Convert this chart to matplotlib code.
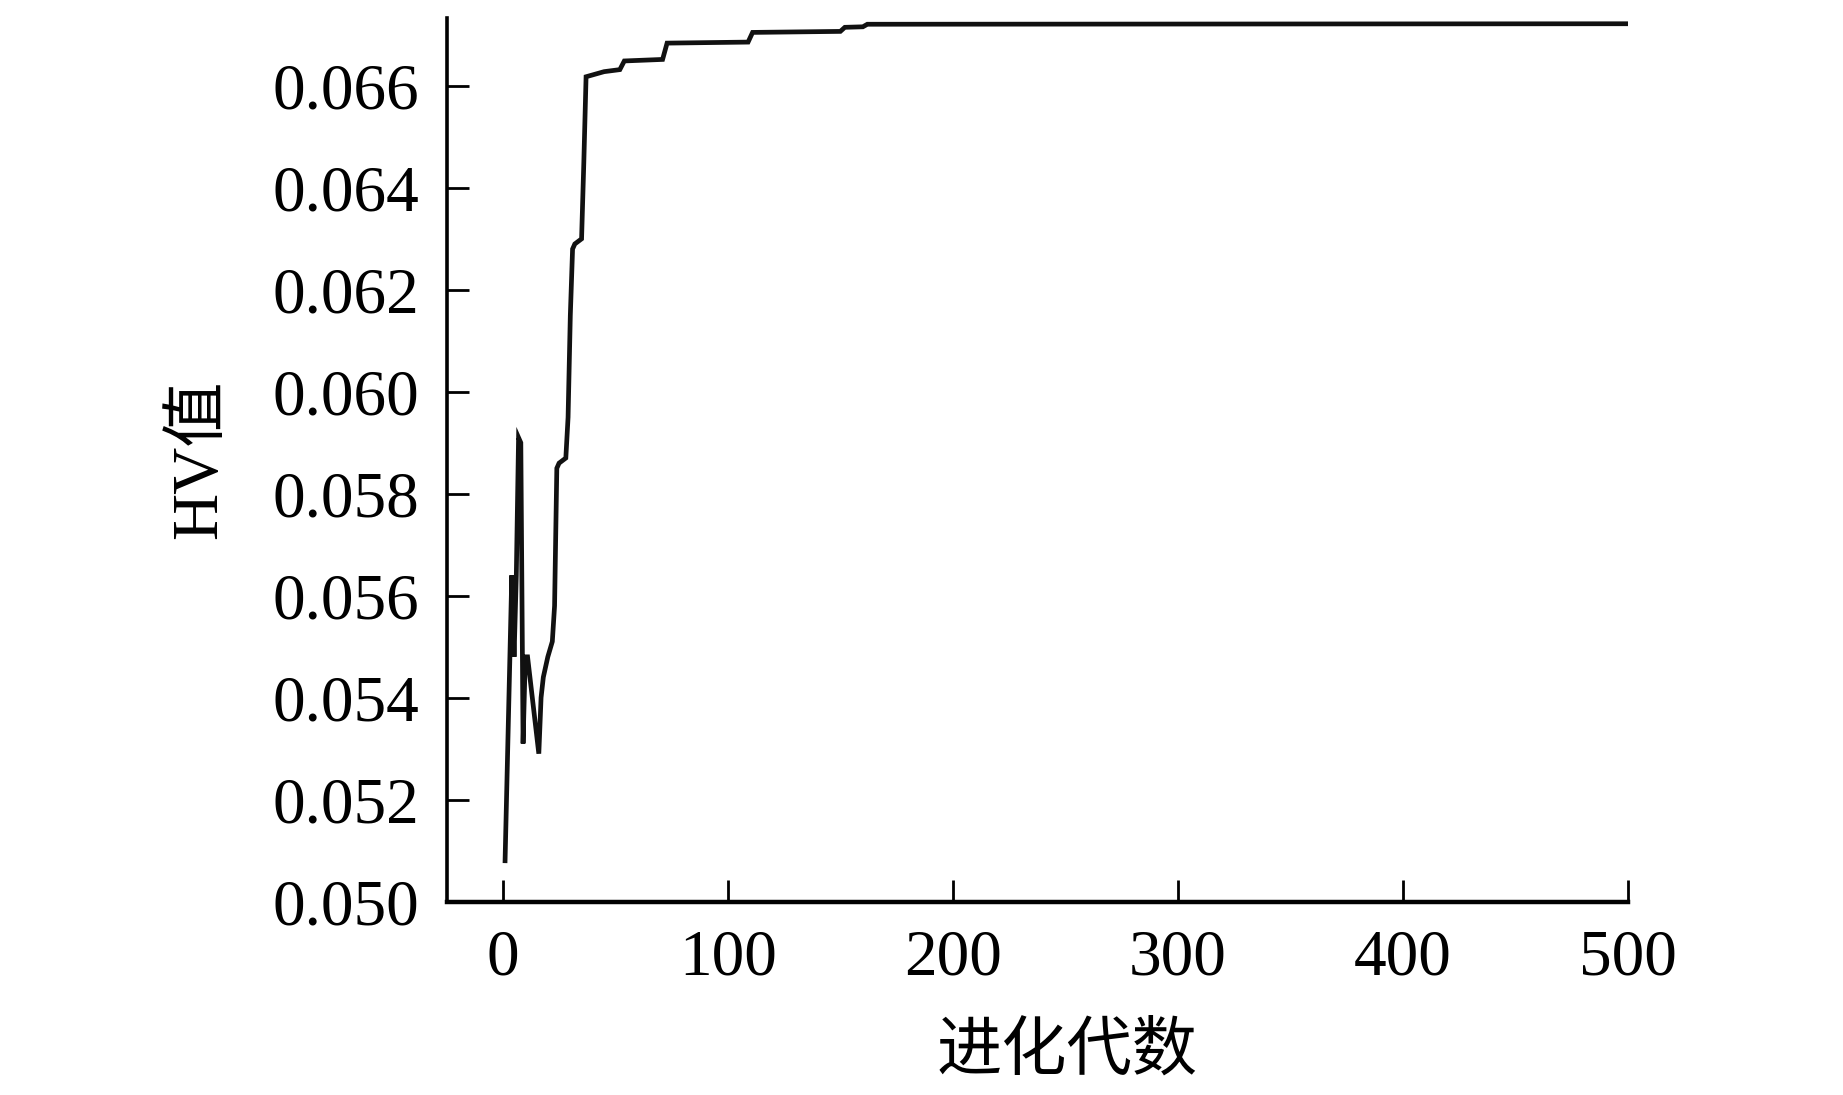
import matplotlib
matplotlib.use('Agg')
import matplotlib.pyplot as plt

# generation number and HV value
gens = [1, 4, 5, 6, 7, 8, 9, 10, 11, 16, 17, 18, 20, 22, 23, 24, 25, 28,
        29, 30, 31, 32, 35, 36, 37, 45, 52, 54, 71, 73, 109, 111, 150, 152,
        160, 162, 500]
hv = [0.0508, 0.0564, 0.0548, 0.0564, 0.0591, 0.0590, 0.0531, 0.0548,
      0.0548, 0.0529, 0.0540, 0.0544, 0.0548, 0.0551, 0.0558, 0.0585,
      0.0586, 0.0587, 0.0595, 0.0615, 0.0628, 0.0629, 0.0630, 0.0645,
      0.06618, 0.06628, 0.06632, 0.06649, 0.06652, 0.06684, 0.06686,
      0.06705, 0.06707, 0.06715, 0.06716, 0.06721, 0.06722]

xticks = [0, 100, 200, 300, 400, 500]
yticks = [0.050, 0.052, 0.054, 0.056, 0.058, 0.060, 0.062, 0.064, 0.066]

plt.rcParams['font.family'] = ['Liberation Serif', 'Noto Sans CJK SC']

fig = plt.figure(figsize=(18.43, 10.95), dpi=100)
ax = fig.add_axes([0.2423, 0.1767, 0.641, 0.8072])

ax.plot(gens, hv, color='#111111', linewidth=3.4, solid_joinstyle='miter')

ax.set_xlim(-25, 500)
ax.set_ylim(0.050, 0.06734)
ax.set_xticks(xticks)
ax.set_yticks(yticks)
ax.set_yticklabels(['%.3f' % v for v in yticks])

ax.spines['top'].set_visible(False)
ax.spines['right'].set_visible(False)
ax.spines['left'].set_linewidth(2.6)
ax.spines['bottom'].set_linewidth(3.2)
ax.tick_params(direction='in', length=16, width=2.0, labelsize=47, pad=20)

ax.set_xlabel('进化代数', fontsize=47, va='center')
ax.xaxis.set_label_coords(0.525, -0.172)
ax.set_ylabel('HV值', fontsize=47, va='center')
ax.yaxis.set_label_coords(-0.2087, 0.5)

fig.savefig('out.png', dpi=100)
